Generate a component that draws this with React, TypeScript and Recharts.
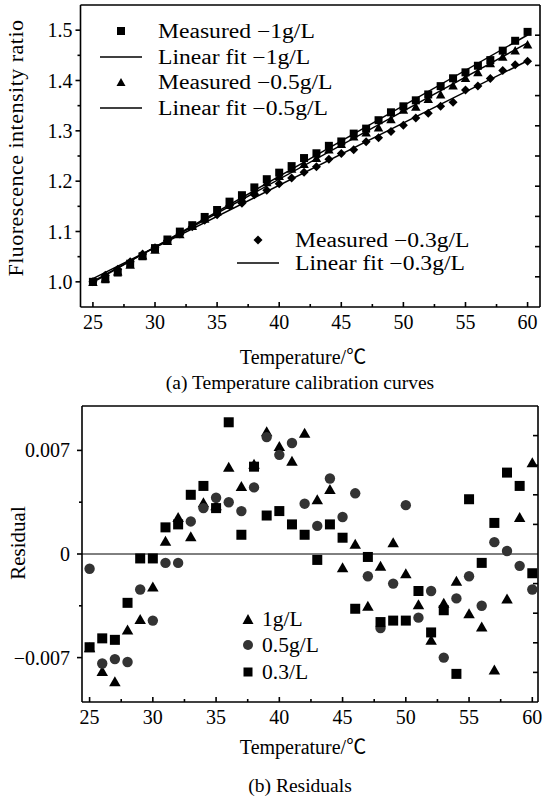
import React from 'react';
import { ComposedChart, Scatter, XAxis, YAxis, ReferenceLine } from 'recharts';

const FONT = "'Liberation Serif','Times New Roman','Noto Sans CJK SC',serif";

// ---------- (a) calibration data ----------
const temps = [25, 26, 27, 28, 29, 30, 31, 32, 33, 34, 35, 36, 37, 38, 39, 40, 41, 42, 43, 44, 45, 46, 47, 48, 49, 50, 51, 52, 53, 54, 55, 56, 57, 58, 59, 60];
const measured1g = [1.0, 1.0051, 1.0185, 1.036, 1.0508, 1.067, 1.0841, 1.0998, 1.1125, 1.1289, 1.1427, 1.1593, 1.1721, 1.1876, 1.2039, 1.2169, 1.2299, 1.2459, 1.2554, 1.2702, 1.2789, 1.2945, 1.3044, 1.3211, 1.3368, 1.3487, 1.3606, 1.3723, 1.3888, 1.4044, 1.4162, 1.4293, 1.4405, 1.4593, 1.4789, 1.4966];
const measured05g = [1.0, 1.0071, 1.021, 1.0343, 1.0527, 1.0642, 1.0816, 1.0951, 1.1114, 1.1259, 1.1401, 1.1533, 1.1663, 1.1814, 1.1983, 1.2107, 1.225, 1.2344, 1.2464, 1.2632, 1.2741, 1.2892, 1.2972, 1.3072, 1.3237, 1.3426, 1.3485, 1.3638, 1.3728, 1.3904, 1.4054, 1.4169, 1.4348, 1.4477, 1.4602, 1.4722];
const measured03g = [1.0, 1.013, 1.0252, 1.0401, 1.0555, 1.0679, 1.0823, 1.0949, 1.1093, 1.1222, 1.1331, 1.1513, 1.156, 1.173, 1.1821, 1.1948, 1.2062, 1.2179, 1.2286, 1.2433, 1.2548, 1.2624, 1.2782, 1.2862, 1.2987, 1.3111, 1.3254, 1.335, 1.3489, 1.3569, 1.3811, 1.3892, 1.4042, 1.42, 1.4315, 1.438];
const fitT = [25, 60];
const fit1g = [0.999, 1.4904];
const fit05g = [1.001, 1.4746];
const fit03g = [1.0063, 1.4393];

// ---------- (b) residual data ----------
const resid1g = [-0.0063, -0.0079, -0.0086, -0.0051, -0.0044, -0.0022, 0.0009, 0.0025, 0.0012, 0.0035, 0.0033, 0.0059, 0.0046, 0.0061, 0.0083, 0.0073, 0.0063, 0.0082, 0.0037, 0.0044, -0.0009, 0.0007, -0.0035, -0.0008, 0.0008, -0.0013, -0.0034, -0.0058, -0.0033, -0.0018, -0.004, -0.0049, -0.0078, -0.003, 0.0025, 0.0062];
const resid05g = [-0.001, -0.0074, -0.0071, -0.0073, -0.0024, -0.0045, -0.0006, -0.0006, 0.0022, 0.0031, 0.0038, 0.0035, 0.0029, 0.0045, 0.0079, 0.0067, 0.0075, 0.0034, 0.0019, 0.0051, 0.0025, 0.0041, -0.0015, -0.005, -0.002, 0.0033, -0.0043, -0.0025, -0.007, -0.003, -0.0015, -0.0035, 0.0008, 0.0002, -0.0008, -0.0024];
const resid03g = [-0.0063, -0.0057, -0.0058, -0.0033, -0.0003, -0.0003, 0.0018, 0.002, 0.004, 0.0046, 0.0031, 0.0089, 0.0013, 0.0059, 0.0026, 0.0029, 0.002, 0.0013, -0.0004, 0.002, 0.0011, -0.0037, -0.0002, -0.0046, -0.0045, -0.0045, -0.0025, -0.0053, -0.0038, -0.0081, 0.0037, -0.0006, 0.0021, 0.0055, 0.0046, -0.0013];

// ---------- ticks ----------
const xMajorTicks = [25, 30, 35, 40, 45, 50, 55, 60];
const xAllTicks = [25, 27.5, 30, 32.5, 35, 37.5, 40, 42.5, 45, 47.5, 50, 52.5, 55, 57.5, 60];
const yMajorTicksA = [1.0, 1.1, 1.2, 1.3, 1.4, 1.5];
const yAllTicksA = [1.0, 1.05, 1.1, 1.15, 1.2, 1.25, 1.3, 1.35, 1.4, 1.45, 1.5];
const yRightTicksA = [1.01, 1.07, 1.13, 1.19, 1.25, 1.31, 1.37, 1.43, 1.49];
const yMajorTicksB = [-0.007, 0, 0.007];
const yAllTicksB = [-0.007, -0.0035, 0, 0.0035, 0.007];
const yRightTicksB = [-0.008, -0.006, -0.004, -0.002, 0.002, 0.004, 0.006, 0.008];
const xTopTicksB = [27.7, 31.15, 34.6, 38.05, 41.5, 45, 48.45, 51.9, 55.35, 58.8];

const zip = (xs: number[], ys: number[]) => xs.map((x, i) => ({ x, y: ys[i] }));

const isMajor = (v: number, majors: number[]) => majors.some((m) => Math.abs(m - v) < 1e-9);
const fmtResid = (v: number) => (v === 0 ? '0' : v < 0 ? '\u2212' + Math.abs(v).toFixed(3) : v.toFixed(3));

const SW = 1.6;
const TICK_FS = 20;

const BottomTick = ({ x, y, payload, majors }: any) => {
  const m = isMajor(payload.value, majors);
  return (
    <g>
      <line x1={x} x2={x} y1={y} y2={y - (m ? 5 : 3)} stroke="#000" strokeWidth={SW} />
      {m && (
        <text x={x} y={y + 22} textAnchor="middle" fontSize={TICK_FS} fontFamily={FONT} fill="#000">
          {String(payload.value)}
        </text>
      )}
    </g>
  );
};
const TopTick = ({ x, y }: any) => (
  <line x1={x} x2={x} y1={y} y2={y + 5} stroke="#000" strokeWidth={SW} />
);
const LeftTick = ({ x, y, payload, majors, fmt, gap }: any) => {
  const m = isMajor(payload.value, majors);
  return (
    <g>
      <line x1={x} x2={x - (m ? 5 : 3)} y1={y} y2={y} stroke="#000" strokeWidth={SW} />
      {m && (
        <text x={x - gap} y={y + 7} textAnchor="end" fontSize={TICK_FS} fontFamily={FONT} fill="#000">
          {fmt(payload.value)}
        </text>
      )}
    </g>
  );
};
const RightTick = ({ x, y }: any) => (
  <line x1={x} x2={x - 5} y1={y} y2={y} stroke="#000" strokeWidth={SW} />
);

const Square = (s: number, fill = '#000') => (p: any) => (
  <rect x={p.cx - s / 2} y={p.cy - s / 2} width={s} height={s} fill={fill} />
);
const Triangle = (w: number, h: number, fill = '#000') => (p: any) => (
  <polygon
    points={`${p.cx - w / 2},${p.cy + h / 2} ${p.cx + w / 2},${p.cy + h / 2} ${p.cx},${p.cy - h / 2}`}
    fill={fill}
  />
);
const Diamond = (s: number, fill = '#000') => (p: any) => (
  <polygon
    points={`${p.cx},${p.cy - s / 2} ${p.cx + s / 2},${p.cy} ${p.cx},${p.cy + s / 2} ${p.cx - s / 2},${p.cy}`}
    fill={fill}
  />
);
const Circle = (r: number, fill: string) => (p: any) => <circle cx={p.cx} cy={p.cy} r={r} fill={fill} />;
const NoShape = () => <g />;

const txt = (extra: React.CSSProperties): React.CSSProperties => ({
  position: 'absolute',
  fontFamily: FONT,
  color: '#000',
  whiteSpace: 'nowrap',
  lineHeight: 1,
  ...extra,
});

const LegendRow = ({ x, y, kind, label }: { x: number; y: number; kind: string; label: string }) => (
  <div style={{ position: 'absolute', left: 0, top: 0 }}>
    <svg style={{ position: 'absolute', left: x - 25, top: y - 10 }} width={50} height={20}>
      {kind === 'square' && <rect x={21} y={6} width={8} height={8} fill="#000" />}
      {kind === 'tri' && <polygon points="20.5,14 29.5,14 25,6" fill="#000" />}
      {kind === 'diamond' && <polygon points="25,5.5 29.5,10 25,14.5 20.5,10" fill="#000" />}
      {kind === 'line' && <line x1={4} x2={46} y1={10} y2={10} stroke="#000" strokeWidth={1.6} />}
    </svg>
    <div
      style={txt({
        left: x + 37,
        top: y - 10,
        fontSize: 20,
        transform: 'scaleX(1.18)',
        transformOrigin: 'left center',
      })}
    >
      {label}
    </div>
  </div>
);

const LegendRowB = ({ y, kind, label }: { y: number; kind: string; label: string }) => (
  <div style={{ position: 'absolute', left: 0, top: 0 }}>
    <svg style={{ position: 'absolute', left: 238, top: y - 10 }} width={20} height={20}>
      {kind === 'tri' && <polygon points="4.5,15 15.5,15 10,5" fill="#000" />}
      {kind === 'circle' && <circle cx={10} cy={10} r={5} fill="#333" />}
      {kind === 'square' && <rect x={5.5} y={5.5} width={9} height={9} fill="#000" />}
    </svg>
    <div style={txt({ left: 262, top: y - 10, fontSize: 20.5, transform: 'scaleX(1.05)', transformOrigin: 'left center' })}>
      {label}
    </div>
  </div>
);

export default function App() {
  const m1 = zip(temps, measured1g);
  const m05 = zip(temps, measured05g);
  const m03 = zip(temps, measured03g);
  const f1 = zip(fitT, fit1g);
  const f05 = zip(fitT, fit05g);
  const f03 = zip(fitT, fit03g);
  const r1 = zip(temps, resid1g);
  const r05 = zip(temps, resid05g);
  const r03 = zip(temps, resid03g);

  const lineStyle = { stroke: '#000', strokeWidth: 1.5 };
  const axisLine = { stroke: '#000', strokeWidth: SW };

  return (
    <div style={{ position: 'absolute', left: 0, top: 0, width: 545, height: 802, background: '#fff', overflow: 'hidden' }}>
      {/* ---------- (a) ---------- */}
      <div style={{ position: 'absolute', left: 0, top: 0 }}>
        <ComposedChart width={545} height={400} margin={{ top: 4, right: 4, bottom: 92, left: 79.5 }}>
          <XAxis
            dataKey="x"
            type="number"
            domain={[24, 61]}
            ticks={xAllTicks}
            interval={0}
            allowDataOverflow
            height={1}
            tickSize={0}
            tickMargin={0}
            axisLine={axisLine}
            tickLine={false}
            tick={(p: any) => <BottomTick {...p} majors={xMajorTicks} />}
          />
          <XAxis
            xAxisId="top"
            orientation="top"
            type="number"
            domain={[24, 61]}
            ticks={xAllTicks}
            interval={0}
            allowDataOverflow
            height={1}
            tickSize={0}
            tickMargin={0}
            axisLine={axisLine}
            tickLine={false}
            tick={(p: any) => <TopTick {...p} />}
          />
          <YAxis
            dataKey="y"
            type="number"
            domain={[0.95, 1.55]}
            ticks={yAllTicksA}
            interval={0}
            allowDataOverflow
            width={1}
            tickSize={0}
            tickMargin={0}
            axisLine={axisLine}
            tickLine={false}
            tick={(p: any) => <LeftTick {...p} majors={yMajorTicksA} gap={8} fmt={(v: number) => v.toFixed(1)} />}
          />
          <YAxis
            yAxisId="right"
            orientation="right"
            type="number"
            domain={[0.95, 1.55]}
            ticks={yRightTicksA}
            interval={0}
            allowDataOverflow
            width={1}
            tickSize={0}
            tickMargin={0}
            axisLine={axisLine}
            tickLine={false}
            tick={(p: any) => <RightTick {...p} />}
          />
          <Scatter data={f1} line={lineStyle} shape={NoShape} isAnimationActive={false} />
          <Scatter data={f05} line={lineStyle} shape={NoShape} isAnimationActive={false} />
          <Scatter data={f03} line={lineStyle} shape={NoShape} isAnimationActive={false} />
          <Scatter data={m03} shape={Diamond(9)} isAnimationActive={false} />
          <Scatter data={m05} shape={Triangle(9.5, 8.5)} isAnimationActive={false} />
          <Scatter data={m1} shape={Square(8)} isAnimationActive={false} />
        </ComposedChart>
      </div>

      <LegendRow x={121} y={31} kind="square" label={'Measured \u22121g/L'} />
      <LegendRow x={121} y={56.5} kind="line" label={'Linear fit \u22121g/L'} />
      <LegendRow x={121} y={82} kind="tri" label={'Measured \u22120.5g/L'} />
      <LegendRow x={121} y={107.5} kind="line" label={'Linear fit \u22120.5g/L'} />
      <LegendRow x={258} y={240} kind="diamond" label={'Measured \u22120.3g/L'} />
      <LegendRow x={258} y={263} kind="line" label={'Linear fit \u22120.3g/L'} />

      <div style={txt({ left: 16, top: 148, fontSize: 22, transform: 'translate(-50%,-50%) rotate(-90deg)', letterSpacing: 0.5 })}>
        Fluorescence intensity ratio
      </div>
      <div style={txt({ left: 303, top: 357, fontSize: 20, transform: 'translate(-50%,-50%)' })}>Temperature/℃</div>
      <div style={txt({ left: 300, top: 383, fontSize: 19.5, transform: 'translate(-50%,-50%)' })}>
        (a) Temperature calibration curves
      </div>

      {/* ---------- (b) ---------- */}
      <div style={{ position: 'absolute', left: 0, top: 400 }}>
        <ComposedChart width={545} height={400} margin={{ top: 5, right: 6, bottom: 97, left: 81 }}>
          <XAxis
            dataKey="x"
            type="number"
            domain={[24.4, 60.45]}
            ticks={xAllTicks}
            interval={0}
            allowDataOverflow
            height={1}
            tickSize={0}
            tickMargin={0}
            axisLine={axisLine}
            tickLine={false}
            tick={(p: any) => <BottomTick {...p} majors={xMajorTicks} />}
          />
          <XAxis
            xAxisId="top"
            orientation="top"
            type="number"
            domain={[24.4, 60.45]}
            ticks={xTopTicksB}
            interval={0}
            allowDataOverflow
            height={1}
            tickSize={0}
            tickMargin={0}
            axisLine={axisLine}
            tickLine={false}
            tick={(p: any) => <TopTick {...p} />}
          />
          <YAxis
            dataKey="y"
            type="number"
            domain={[-0.01, 0.01]}
            ticks={yAllTicksB}
            interval={0}
            allowDataOverflow
            width={1}
            tickSize={0}
            tickMargin={0}
            axisLine={axisLine}
            tickLine={false}
            tick={(p: any) => <LeftTick {...p} majors={yMajorTicksB} gap={12} fmt={fmtResid} />}
          />
          <YAxis
            yAxisId="right"
            orientation="right"
            type="number"
            domain={[-0.01, 0.01]}
            ticks={yRightTicksB}
            interval={0}
            allowDataOverflow
            width={1}
            tickSize={0}
            tickMargin={0}
            axisLine={axisLine}
            tickLine={false}
            tick={(p: any) => <RightTick {...p} />}
          />
          <ReferenceLine y={0} stroke="#000" strokeWidth={1} />
          <Scatter data={r1} shape={Triangle(11.5, 10)} isAnimationActive={false} />
          <Scatter data={r05} shape={Circle(5.2, '#333')} isAnimationActive={false} />
          <Scatter data={r03} shape={Square(10)} isAnimationActive={false} />
        </ComposedChart>
      </div>

      <LegendRowB y={619} kind="tri" label="1g/L" />
      <LegendRowB y={645} kind="circle" label="0.5g/L" />
      <LegendRowB y={672} kind="square" label="0.3/L" />

      <div style={txt({ left: 18, top: 543, fontSize: 21, transform: 'translate(-50%,-50%) rotate(-90deg)' })}>Residual</div>
      <div style={txt({ left: 303, top: 747, fontSize: 20, transform: 'translate(-50%,-50%)' })}>Temperature/℃</div>
      <div style={txt({ left: 300, top: 786, fontSize: 19.5, transform: 'translate(-50%,-50%)' })}>(b) Residuals</div>
    </div>
  );
}
